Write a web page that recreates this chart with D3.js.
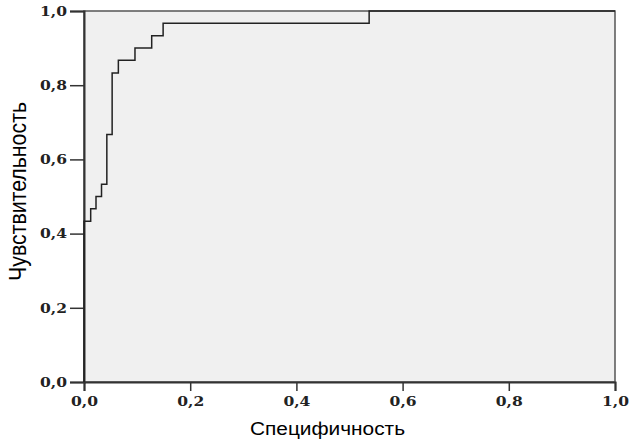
<!DOCTYPE html>
<html lang="ru">
<head>
<meta charset="utf-8">
<title>ROC</title>
<script src="https://cdn.jsdelivr.net/npm/d3@7"></script>
<style>
  body { margin: 0; background: #fff; }
  .tick text { font-family: "DejaVu Serif", "Liberation Serif", serif; font-weight: bold; font-size: 13.5px; fill: #222; }
  .title { font-family: "Liberation Sans", Arial, sans-serif; fill: #000; }
</style>
</head>
<body>
<script>
// ROC curve points (1 - specificity, sensitivity)
var fpr = [0, 0, 0.0126, 0.0126, 0.0226, 0.0226, 0.033, 0.033, 0.043, 0.043, 0.053, 0.053, 0.0647, 0.0647, 0.096, 0.096, 0.1275, 0.1275, 0.149, 0.149, 0.537, 0.537, 1];
var tpr = [0, 0.433, 0.433, 0.467, 0.467, 0.5, 0.5, 0.533, 0.533, 0.667, 0.667, 0.833, 0.833, 0.867, 0.867, 0.9, 0.9, 0.933, 0.933, 0.967, 0.967, 1, 1];
var ticks = [0, 0.2, 0.4, 0.6, 0.8, 1.0];

var W = 630, H = 442;
var m = {left: 84, right: 15, top: 11, bottom: 60};

var svg = d3.select("body").append("svg").attr("width", W).attr("height", H);

var x = d3.scaleLinear().domain([0, 1]).range([m.left, W - m.right]);
var y = d3.scaleLinear().domain([0, 1]).range([H - m.bottom, m.top]);

var fmt = function(d) { return d3.format(".1f")(d).replace(".", ","); };

// plot background + frame
svg.append("rect")
  .attr("x", x(0)).attr("y", y(1))
  .attr("width", x(1) - x(0)).attr("height", y(0) - y(1))
  .attr("fill", "#f0f0f0")
  .attr("stroke", "#555").attr("stroke-width", 1.5);

var xAxis = svg.append("g")
  .attr("transform", "translate(0," + y(0) + ")")
  .call(d3.axisBottom(x).tickValues(ticks).tickFormat(fmt).tickSize(9));

var yAxis = svg.append("g")
  .attr("transform", "translate(" + x(0) + ",0)")
  .call(d3.axisLeft(y).tickValues(ticks).tickFormat(fmt).tickSize(14).tickPadding(3));

[xAxis, yAxis].forEach(function(a) {
  a.select(".domain").attr("stroke", "#333").attr("stroke-width", 2);
  a.selectAll(".tick line").attr("stroke", "#333").attr("stroke-width", 1.5);
  a.selectAll(".tick text").attr("textLength", 27).attr("lengthAdjust", "spacingAndGlyphs");
});
xAxis.selectAll(".tick text").attr("y", 23.5).attr("dy", 0);

// curve
var pts = fpr.map(function(v, i) { return [v, tpr[i]]; });
svg.append("path")
  .datum(pts)
  .attr("fill", "none")
  .attr("stroke", "#222")
  .attr("stroke-width", 1.5)
  .attr("d", d3.line().x(function(d) { return x(d[0]); }).y(function(d) { return y(d[1]); }));

// titles (the original picture is a bit stretched sideways)
svg.append("text").attr("class", "title")
  .attr("x", 327.5).attr("y", 435)
  .attr("text-anchor", "middle")
  .attr("font-size", 18)
  .attr("textLength", 155).attr("lengthAdjust", "spacingAndGlyphs")
  .text("Специфичность");

svg.append("text").attr("class", "title")
  .attr("transform", "translate(26,191.5) scale(1.2,1) rotate(-90)")
  .attr("text-anchor", "middle")
  .attr("font-size", 20)
  .attr("textLength", 179).attr("lengthAdjust", "spacingAndGlyphs")
  .text("Чувствительность");
</script>
</body>
</html>
